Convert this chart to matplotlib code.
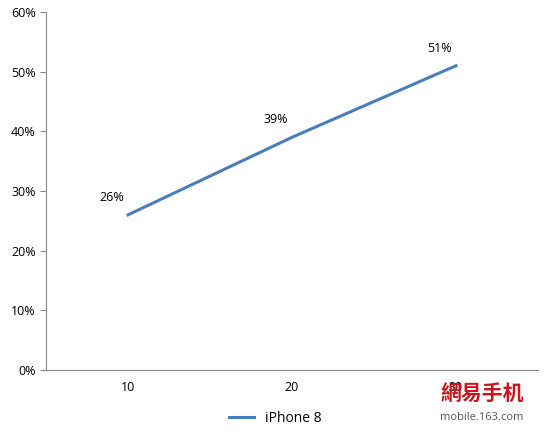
import matplotlib
matplotlib.use("Agg")
import matplotlib.pyplot as plt

categories = ["10", "20", "30"]
values = [26, 39, 51]
series_name = "iPhone 8"

plt.rcParams['font.family'] = ['Open Sans', 'DejaVu Sans']
fig = plt.figure(figsize=(5.5, 4.37), dpi=100)
ax = fig.add_axes([46/550, 1-370/437, 492/550, 358/437])
x = list(range(len(categories)))
ax.plot(x, values, color='#4a7ebb', lw=2.2, label=series_name)
for xi, v in zip(x, values):
    ax.annotate(f"{v}%", (xi, v), xytext=(-12, 10), textcoords='offset points',
                ha='center', fontsize=9)
ax.set_xlim(-0.5, 2.5)
ax.set_ylim(0, 60)
ax.set_xticks(x)
ax.set_xticklabels(categories, fontsize=9)
ax.set_yticks(range(0, 61, 10))
ax.set_yticklabels([f"{t}%" for t in range(0, 61, 10)], fontsize=9)
for s in ['top', 'right']:
    ax.spines[s].set_visible(False)
for s in ['left', 'bottom']:
    ax.spines[s].set_color('#888888')
ax.tick_params(axis='x', length=0, pad=8)
ax.tick_params(axis='y', length=4, color='#888888', direction='out')
fig.legend(loc='center', bbox_to_anchor=(0.5, 1-418/437), frameon=False, fontsize=10,
           handlelength=1.8)
fig.text(0.80, 1-393/437, "網易手机", color='#c8161d', fontsize=15, fontweight='bold',
         family=['Noto Sans CJK TC', 'DejaVu Sans'], va='center')
fig.text(0.80, 1-418/437, "mobile.163.com", color='#555555', fontsize=8, va='center')
fig.savefig("out.png", dpi=100)
